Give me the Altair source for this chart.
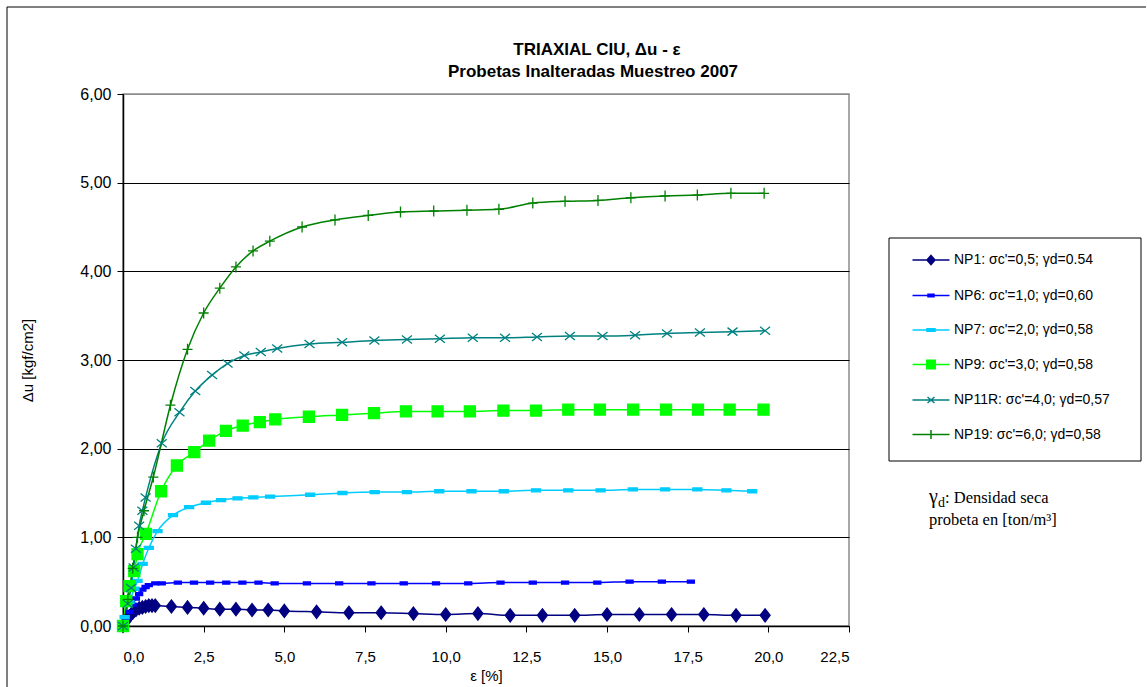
import altair as alt
import pandas as pd

series_names = [
    "NP1: σc'=0,5; γd=0.54",
    "NP6: σc'=1,0; γd=0,60",
    "NP7: σc'=2,0; γd=0,58",
    "NP9: σc'=3,0; γd=0,58",
    "NP11R: σc'=4,0; γd=0,57",
    "NP19: σc'=6,0; γd=0,58",
]
colors = ["#000080", "#0000FF", "#00CCFF", "#00FF00", "#008080", "#008000"]

np1_x = [0, 0.1, 0.2, 0.3, 0.4, 0.5, 0.6, 0.7, 0.8, 0.9, 1.0, 1.5, 2.0, 2.5, 3.0, 3.5, 4.0, 4.5, 5.0,
         6.0, 7.0, 8.0, 9.0, 10.0, 11.0, 12.0, 13.0, 14.0, 15.0, 16.0, 17.0, 18.0, 19.0, 19.9]
np1_y = [0, 0.06, 0.11, 0.15, 0.18, 0.20, 0.21, 0.22, 0.23, 0.23, 0.23, 0.22, 0.21, 0.20, 0.19, 0.19, 0.18, 0.18, 0.17,
         0.16, 0.15, 0.15, 0.14, 0.13, 0.14, 0.12, 0.12, 0.12, 0.13, 0.13, 0.13, 0.13, 0.12, 0.12]

np6_x = [0, 0.05, 0.1, 0.2, 0.3, 0.4, 0.5, 0.6, 0.7, 0.8, 1.0, 1.2, 1.7, 2.2, 2.7, 3.2, 3.7, 4.2, 4.7,
         5.7, 6.7, 7.7, 8.7, 9.7, 10.7, 11.7, 12.7, 13.7, 14.7, 15.7, 16.7, 17.6]
np6_y = [0, 0.04, 0.08, 0.16, 0.24, 0.31, 0.36, 0.41, 0.44, 0.46, 0.48, 0.48, 0.49, 0.49, 0.49, 0.49, 0.49, 0.49, 0.48,
         0.48, 0.48, 0.48, 0.48, 0.48, 0.48, 0.49, 0.49, 0.49, 0.49, 0.50, 0.50, 0.50]

np7_x = [0, 0.05, 0.2, 0.35, 0.45, 0.61, 0.8, 1.07, 1.55, 2.05, 2.57, 3.04, 3.55, 4.04, 4.56,
         5.8, 6.8, 7.8, 8.8, 9.8, 10.8, 11.8, 12.8, 13.8, 14.8, 15.8, 16.8, 17.8, 18.7, 19.5]
np7_y = [0, 0.1, 0.27, 0.42, 0.51, 0.7, 0.88, 1.07, 1.25, 1.34, 1.39, 1.42, 1.44, 1.45, 1.46,
         1.48, 1.50, 1.51, 1.51, 1.52, 1.52, 1.52, 1.53, 1.53, 1.53, 1.54, 1.54, 1.54, 1.53, 1.52]

np9_x = [0, 0.1, 0.2, 0.35, 0.45, 0.71, 1.18, 1.67, 2.21, 2.67, 3.19, 3.71, 4.24, 4.72,
         5.76, 6.79, 7.78, 8.77, 9.75, 10.75, 11.79, 12.8, 13.8, 14.78, 15.81, 16.83, 17.82, 18.8, 19.85]
np9_y = [0, 0.28, 0.45, 0.62, 0.81, 1.04, 1.52, 1.81, 1.96, 2.09, 2.20, 2.26, 2.30, 2.33,
         2.36, 2.38, 2.40, 2.42, 2.42, 2.42, 2.43, 2.43, 2.44, 2.44, 2.44, 2.44, 2.44, 2.44, 2.44]

np11r_x = [0, 0.15, 0.25, 0.33, 0.4, 0.5, 0.6, 0.7, 1.2, 1.75, 2.24, 2.76, 3.24, 3.76, 4.27, 4.78,
           5.78, 6.79, 7.79, 8.8, 9.82, 10.84, 11.84, 12.83, 13.85, 14.86, 15.87, 16.86, 17.88, 18.89, 19.9]
np11r_y = [0, 0.25, 0.43, 0.66, 0.87, 1.13, 1.30, 1.45, 2.06, 2.41, 2.65, 2.83, 2.96, 3.05, 3.09, 3.13,
           3.18, 3.20, 3.22, 3.23, 3.24, 3.25, 3.25, 3.26, 3.27, 3.27, 3.28, 3.30, 3.31, 3.32, 3.33]

np19_x = [0, 0.15, 0.3, 0.45, 0.65, 0.94, 1.47, 2.0, 2.5, 3.0, 3.5, 4.03, 4.55,
          5.55, 6.57, 7.6, 8.6, 9.63, 10.66, 11.65, 12.7, 13.7, 14.72, 15.74, 16.8, 17.8, 18.84, 19.87]
np19_y = [0, 0.3, 0.65, 1.0, 1.3, 1.68, 2.49, 3.12, 3.53, 3.81, 4.05, 4.23, 4.34,
          4.50, 4.58, 4.63, 4.67, 4.68, 4.69, 4.70, 4.77, 4.79, 4.80, 4.83, 4.85, 4.86, 4.88, 4.88]

x_ticks = [0, 2.5, 5, 7.5, 10, 12.5, 15, 17.5, 20, 22.5]
y_ticks = [0, 1, 2, 3, 4, 5, 6]

title_lines = ["TRIAXIAL CIU, Δu - ε", "Probetas Inalteradas Muestreo 2007"]

# marker shapes (plot) and legend symbols (line + marker)
plot_shapes = [
    "M0,-1.3L1,0L0,1.3L-1,0Z",
    "M-0.7,-0.3H0.7V0.3H-0.7Z",
    "M-0.9,-0.3H0.9V0.3H-0.9Z",
    "M-1.1,-1.1H1.1V1.1H-1.1Z",
    "M-1,-0.8L1,0.8M-1,0.8L1,-0.8",
    "M-1,0H1M0,-1.1V1.1",
]
legend_shapes = [
    "M-1.85,0H1.85M0,-0.45L0.4,0L0,0.45L-0.4,0Z",
    "M-1.85,0H1.85M-0.3,-0.12H0.3V0.12H-0.3Z",
    "M-1.85,0H1.85M-0.4,-0.12H0.4V0.12H-0.4Z",
    "M-1.85,0H1.85M-0.42,-0.42H0.42V0.42H-0.42Z",
    "M-1.85,0H1.85M-0.35,-0.3L0.35,0.3M-0.35,0.3L0.35,-0.3",
    "M-1.85,0H1.85M0,-0.45V0.45",
]

rows = []
for name, xs, ys in zip(series_names,
                        [np1_x, np6_x, np7_x, np9_x, np11r_x, np19_x],
                        [np1_y, np6_y, np7_y, np9_y, np11r_y, np19_y]):
    for i, (a, b) in enumerate(zip(xs, ys)):
        rows.append({"serie": name, "eps": a, "du": b, "orden": i})
df = pd.DataFrame(rows)

xenc = alt.X("eps:Q", scale=alt.Scale(domain=[0, 22.5], nice=False),
             axis=alt.Axis(values=x_ticks, title="ε [%]", grid=False,
                           labelExpr="replace(format(datum.value, '.1f'), '.', ',')"))
yenc = alt.Y("du:Q", scale=alt.Scale(domain=[0, 6], nice=False),
             axis=alt.Axis(values=y_ticks, title="Δu [kgf/cm2]", grid=True,
                           gridColor={"condition": {"test": "datum.value === 6", "value": "#8c8c8c"}, "value": "#000000"},
                           labelExpr="replace(format(datum.value, '.2f'), '.', ',')"))

col_scale = alt.Scale(domain=series_names, range=colors)

lines = alt.Chart(df).mark_line(interpolate="monotone", strokeWidth=1.5).encode(
    x=xenc, y=yenc,
    color=alt.Color("serie:N", scale=col_scale, legend=None),
    order="orden:Q",
)

points = alt.Chart(df).mark_point(filled=True, strokeWidth=1.3, opacity=1, size=100).encode(
    x=xenc, y=yenc,
    fill=alt.Fill("serie:N", scale=col_scale, legend=None),
    stroke=alt.Stroke("serie:N", scale=col_scale, legend=None),
    shape=alt.Shape("serie:N", scale=alt.Scale(domain=series_names, range=plot_shapes), legend=None),
)

leg = alt.Legend(orient="none", legendX=789, legendY=155, title=None, labelFont="Arial",
                 labelFontSize=14, labelColor="black", symbolSize=400, symbolStrokeWidth=1.5,
                 symbolOffset=8, labelOffset=12, rowPadding=16.5, padding=0, symbolOpacity=1,
                 labelLimit=300)

legend_layer = alt.Chart(df).transform_filter("datum.du < -100").mark_point(filled=True, strokeWidth=1.5, size=400).encode(
    x=xenc, y=yenc,
    fill=alt.Fill("serie:N", scale=col_scale, legend=leg),
    stroke=alt.Stroke("serie:N", scale=col_scale, legend=leg),
    shape=alt.Shape("serie:N", scale=alt.Scale(domain=series_names, range=legend_shapes), legend=leg),
)

one = pd.DataFrame({"k": [0]})
# outer frame (top and left edges) and legend box
frame_top = alt.Chart(one).mark_rule(color="black", strokeWidth=1).encode(
    x=alt.value(-116), x2=alt.value(1023), y=alt.value(-87))
frame_left = alt.Chart(one).mark_rule(color="black", strokeWidth=1).encode(
    x=alt.value(-116), y=alt.value(-87), y2=alt.value(593))
legend_box = alt.Chart(one).mark_rect(fill="white", fillOpacity=0, stroke="black", strokeWidth=1).encode(
    x=alt.value(766), x2=alt.value(1018), y=alt.value(144), y2=alt.value(367))

# chart title (two lines)
title1 = alt.Chart(one).mark_text(text=title_lines[0], font="Arial", fontSize=17, fontWeight="bold",
                                  align="center", baseline="middle", color="black").encode(
    x=alt.value(474), y=alt.value(-44))
title2 = alt.Chart(one).mark_text(text=title_lines[1], font="Arial", fontSize=17, fontWeight="bold",
                                  align="center", baseline="middle", color="black").encode(
    x=alt.value(470), y=alt.value(-22))

serif = "Liberation Serif"
t1 = alt.Chart(one).mark_text(text="γ", font=serif, fontSize=20, align="left", baseline="alphabetic", color="black").encode(
    x=alt.value(806), y=alt.value(409))
t2 = alt.Chart(one).mark_text(text="d", font=serif, fontSize=14, align="left", baseline="alphabetic", color="black").encode(
    x=alt.value(815), y=alt.value(413))
t3 = alt.Chart(one).mark_text(text=": Densidad seca", font=serif, fontSize=16.5, align="left", baseline="alphabetic", color="black").encode(
    x=alt.value(822), y=alt.value(409))
t4 = alt.Chart(one).mark_text(text="probeta en [ton/m³]", font=serif, fontSize=16.5, align="left", baseline="alphabetic", color="black").encode(
    x=alt.value(806), y=alt.value(431))

chart = alt.layer(
    lines, points, legend_layer, legend_box, frame_top, frame_left, title1, title2, t1, t2, t3, t4
).resolve_scale(
    shape="independent", fill="independent", stroke="independent", color="independent"
).properties(
    width=726, height=532,
    padding={"left": 6, "top": 6, "right": 0, "bottom": 0},
    background="white",
).configure_view(
    stroke="#8c8c8c", strokeWidth=1.5
).configure_axis(
    labelFont="Arial", labelColor="black",
    titleFont="Arial", titleFontSize=15, titleFontWeight="normal", titleColor="black",
    domainColor="black", domainWidth=1.5, tickColor="black", tickSize=6, tickWidth=1,
    gridWidth=1,
).configure_axisX(
    labelFontSize=15, labelPadding=17, titlePadding=4,
).configure_axisY(
    labelFontSize=16, labelPadding=6, titlePadding=44,
)

chart.save("out.html", embed_options={"renderer": "svg", "actions": False})
